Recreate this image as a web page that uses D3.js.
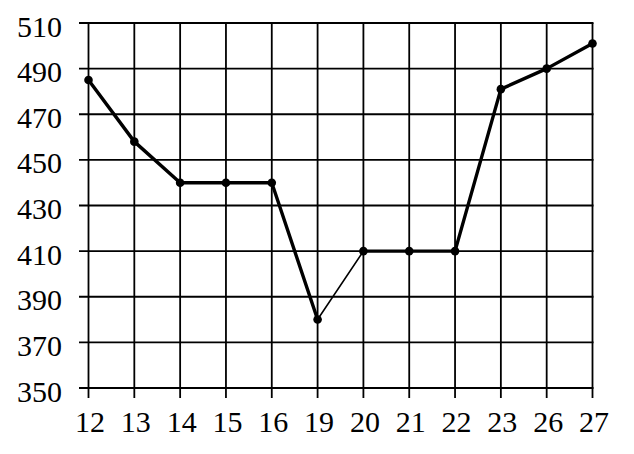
<!DOCTYPE html>
<html><head><meta charset="utf-8">
<script src="https://cdn.jsdelivr.net/npm/d3@7"></script>
<style>html,body{margin:0;padding:0;background:#fff;}svg{display:block;}</style>
</head><body>
<script>
const categories = ["12","13","14","15","16","19","20","21","22","23","26","27"];
const values = [485, 458, 440, 440, 440, 380, 410, 410, 410, 481, 490, 501];
const yTicks = [350, 370, 390, 410, 430, 450, 470, 490, 510];
// segment index that is drawn thin (19 -> 20)
const thinSegments = [5];

const W = 634, H = 454;
const svg = d3.select("body").append("svg").attr("width", W).attr("height", H);
const x = d3.scalePoint().domain(categories).range([88.5, 592.5]);
const y = d3.scaleLinear().domain([350, 510]).range([388, 23]);

const font = "'Liberation Serif','Times New Roman',serif";
// horizontal grid
svg.append("g").selectAll("line").data(yTicks).join("line")
  .attr("x1", 79).attr("x2", 593.5)
  .attr("y1", d => y(d)).attr("y2", d => y(d))
  .attr("stroke", "#000").attr("stroke-width", 1.8);
// vertical grid
svg.append("g").selectAll("line").data(categories).join("line")
  .attr("x1", d => x(d)).attr("x2", d => x(d))
  .attr("y1", y(510)).attr("y2", 398)
  .attr("stroke", "#000").attr("stroke-width", 1.8);
// y labels
svg.append("g").selectAll("text").data(yTicks).join("text")
  .attr("x", 62).attr("y", d => y(d) + 13.5)
  .attr("text-anchor", "end").attr("font-family", font).attr("font-size", 30)
  .attr("fill", "#000").text(d => d);
// x labels
svg.append("g").selectAll("text").data(categories).join("text")
  .attr("x", d => x(d) + 1.5).attr("y", 432)
  .attr("text-anchor", "middle").attr("font-family", font).attr("font-size", 30)
  .attr("fill", "#000").text(d => d);
// line segments
const segs = d3.range(values.length - 1).map(i => ({i, a: i, b: i + 1}));
svg.append("g").selectAll("line").data(segs).join("line")
  .attr("x1", d => x(categories[d.a])).attr("y1", d => y(values[d.a]))
  .attr("x2", d => x(categories[d.b])).attr("y2", d => y(values[d.b]))
  .attr("stroke", "#000").attr("stroke-linecap", "round")
  .attr("stroke-width", d => thinSegments.includes(d.i) ? 1.6 : 3.4);
// markers
svg.append("g").selectAll("circle").data(values).join("circle")
  .attr("cx", (d, i) => x(categories[i])).attr("cy", d => y(d))
  .attr("r", 4.3).attr("fill", "#000");
</script>
</body></html>
